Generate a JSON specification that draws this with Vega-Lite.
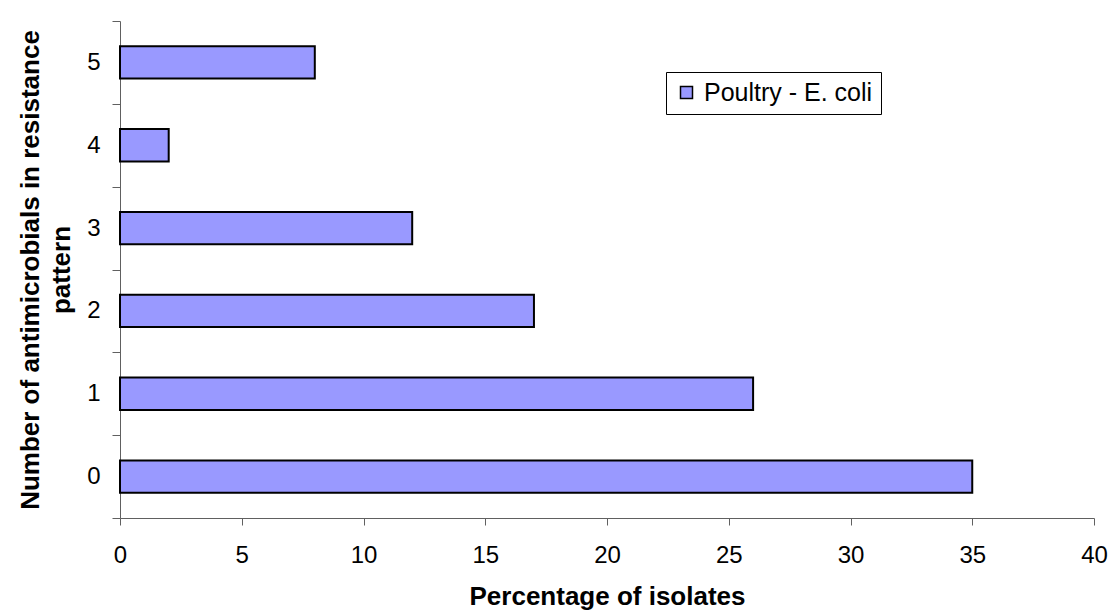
{
  "$schema": "https://vega.github.io/schema/vega-lite/v6.json",
  "width": 974,
  "height": 497,
  "autosize": {"type": "none"},
  "padding": {"left": 120, "top": 21, "right": 15, "bottom": 97},
  "background": "white",
  "config": {
    "view": {"stroke": null},
    "font": "Liberation Sans"
  },
  "data": {
    "values": [
      {"n": "0", "pct": 35, "series": "Poultry - E. coli"},
      {"n": "1", "pct": 26, "series": "Poultry - E. coli"},
      {"n": "2", "pct": 17, "series": "Poultry - E. coli"},
      {"n": "3", "pct": 12, "series": "Poultry - E. coli"},
      {"n": "4", "pct": 2, "series": "Poultry - E. coli"},
      {"n": "5", "pct": 8, "series": "Poultry - E. coli"}
    ]
  },
  "mark": {"type": "bar", "stroke": "black", "strokeWidth": 2, "height": {"band": 0.39}},
  "encoding": {
    "y": {
      "field": "n",
      "type": "ordinal",
      "sort": "descending",
      "scale": {"paddingInner": 0, "paddingOuter": 0},
      "axis": {
        "title": ["Number of antimicrobials in resistance", "pattern"],
        "titleFontSize": 26,
        "titleFontWeight": "bold",
        "titleColor": "black",
        "titleLineHeight": 31,
        "titlePadding": 12,
        "titleLimit": 1000,
        "labelFontSize": 24,
        "labelColor": "black",
        "labelPadding": 12,
        "tickBand": "extent",
        "tickSize": 8,
        "tickColor": "#606060",
        "domainColor": "#606060",
        "labelAngle": 0
      }
    },
    "x": {
      "field": "pct",
      "type": "quantitative",
      "scale": {"domain": [0, 40], "nice": false},
      "axis": {
        "title": "Percentage of isolates",
        "titleFontSize": 26,
        "titleFontWeight": "bold",
        "titleColor": "black",
        "titlePadding": 16,
        "values": [0, 5, 10, 15, 20, 25, 30, 35, 40],
        "grid": false,
        "labelFontSize": 24,
        "labelColor": "black",
        "labelPadding": 18,
        "tickSize": 7,
        "tickColor": "#606060",
        "domainColor": "#606060",
        "labelFlush": false
      }
    },
    "fill": {
      "field": "series",
      "type": "nominal",
      "scale": {"range": ["#9999FF"]},
      "legend": {
        "title": null,
        "orient": "none",
        "legendX": 546,
        "legendY": 51,
        "strokeColor": "black",
        "fillColor": "white",
        "padding": 8,
        "symbolType": "square",
        "symbolSize": 144,
        "symbolStrokeColor": "black",
        "symbolStrokeWidth": 1.5,
        "labelFontSize": 25,
        "labelLimit": 500,
        "labelColor": "black",
        "labelOffset": 5
      }
    }
  }
}
